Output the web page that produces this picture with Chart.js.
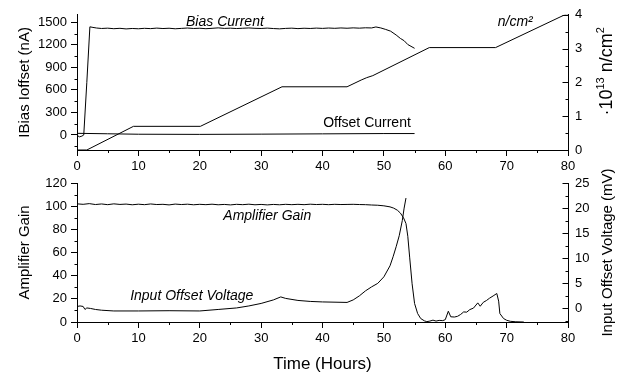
<!DOCTYPE html>
<html>
<head>
<meta charset="utf-8">
<title>Bias current, fluence and amplifier gain vs time</title>
<script src="https://cdn.jsdelivr.net/npm/chart.js@4.4.1/dist/chart.umd.min.js"></script>
<style>
  body { margin: 0; background: #fff; }
  #wrap { position: relative; width: 623px; height: 379px; }
  canvas { position: absolute; left: 0; }
</style>
</head>
<body>
<div id="wrap">
  <canvas id="upper" width="623" height="178" style="top:0"></canvas>
  <canvas id="lower" width="623" height="224" style="top:155px"></canvas>
</div>
<script>
// time axis (hours), shared by both panels
const timeTicks = [0, 10, 20, 30, 40, 50, 60, 70, 80];

// upper panel: currents (nA) and fluence (1e13 n/cm2), points are [hours, value]
const biasCurrent = [
  [0, -5], [0.4, -25], [0.8, -15], [1.1, 0], [1.6, 700], [2.1, 1440], [2.6, 1432], [3.2, 1424],
  [4, 1418], [5, 1422], [6, 1415], [7, 1420], [8, 1412], [9, 1418], [10, 1414], [11, 1420],
  [12, 1416], [13, 1423], [14, 1417], [15, 1421], [16, 1414], [17, 1419], [18, 1424], [19, 1418],
  [20, 1421], [21, 1415], [22, 1420], [23, 1426], [24, 1419], [25, 1422], [26, 1417], [27, 1421],
  [28, 1425], [29, 1420], [30, 1418], [31, 1423], [32, 1417], [33, 1413], [34, 1419], [35, 1422],
  [36, 1416], [37, 1421], [38, 1418], [39, 1423], [40, 1419], [41, 1424], [42, 1420], [43, 1425],
  [44, 1421], [45, 1426], [46, 1422], [47, 1427], [48, 1425], [48.7, 1438], [49.5, 1425],
  [50.3, 1405], [51.1, 1382], [52, 1331], [52.7, 1285], [53.3, 1255], [53.9, 1204], [55, 1154]
];
const offsetCurrent = [
  [0, 22], [5, 16], [10, 10], [20, 8], [30, 11], [40, 15], [50, 19], [55, 19]
];
const fluence = [
  [0, 0], [1.6, 0], [9.2, 0.7], [20.1, 0.7], [33.4, 1.87], [44, 1.87], [46.3, 2.07],
  [47.2, 2.14], [48.2, 2.2], [57.4, 3.03], [68.2, 3.03], [79.7, 4.02], [80, 4.0]
];
const currentTicks = [0, 300, 600, 900, 1200, 1500];
const fluenceTicks = [0, 1, 2, 3, 4];

// lower panel: gain and input offset voltage (mV)
const amplifierGain = [
  [0, 102], [1, 101.6], [2, 102.2], [3, 101.4], [4, 101.9], [5, 101.3], [6, 102], [7, 101.5],
  [8, 101.8], [9, 101.2], [10, 101.7], [11, 101.3], [12, 101.9], [13, 101.4], [14, 101.6],
  [15, 101.1], [16, 101.8], [17, 101.4], [18, 101.7], [19, 101.2], [20, 101.6], [21, 101.3],
  [22, 101.7], [23, 101.2], [24, 101.5], [25, 101.1], [26, 101.6], [27, 101.3], [28, 101.7],
  [29, 101.2], [30, 101.5], [31, 101.1], [32, 101.5], [33, 101.2], [34, 101.6], [35, 101.3],
  [36, 101.6], [37, 101.3], [38, 101.7], [39, 101.4], [40, 101.6], [41, 101.3], [42, 101.6],
  [43, 101.4], [44, 101.5], [45, 101.6], [46, 101.4], [47, 101.3], [48, 101], [49, 100.8],
  [50, 100.3], [51, 99.4], [51.6, 98.3], [52.2, 96.5], [52.7, 94], [53.2, 90], [53.6, 85],
  [53.9, 74], [54.2, 56], [54.6, 33], [55, 16], [55.5, 7.3], [56, 3], [56.6, 1], [57, 0.3],
  [57.5, 0.8], [58, 1.6], [58.5, 0.8], [59, 1.4], [59.6, 1.2], [60, 2], [60.5, 9.3], [60.9, 4.5],
  [61.5, 4.3], [62, 4.9], [62.5, 6.5], [63, 8.7], [63.5, 8.5], [64, 10.7], [64.6, 12],
  [65.3, 16.5], [65.7, 13.6], [66.2, 17], [66.7, 18.5], [67.2, 20.5], [67.8, 22.5], [68.4, 24.6],
  [68.7, 18], [68.9, 7.3], [69.5, 3], [70, 1.5], [70.6, 0.6], [71.5, 0.2], [72.8, 0]
];
const inputOffset = [
  [0, 0.4], [0.5, 0.5], [1, 0.4], [1.3, -0.2], [1.6, 0.1], [2.2, 0], [3, -0.2], [4, -0.35],
  [6, -0.5], [10, -0.5], [15, -0.45], [20, -0.5], [23, -0.2], [26, 0.1], [28, 0.5], [30, 1.0],
  [32, 1.7], [33.2, 2.3], [34, 2.0], [36, 1.6], [38, 1.4], [40, 1.3], [44, 1.2], [45, 1.7],
  [46, 2.5], [47, 3.5], [48, 4.3], [49, 5.0], [50, 6.3], [51, 8.5], [51.5, 10.3], [52, 12.3],
  [52.5, 14.5], [53, 17.5], [53.3, 20], [53.6, 22]
];
const gainTicks = [0, 20, 40, 60, 80, 100, 120];
const voltageTicks = [0, 5, 10, 15, 20, 25];

const FONT = "'Liberation Sans', Arial, Helvetica, sans-serif";

// minor ticks, inward right-axis ticks, rotated right titles and in-plot labels
const extras = {
  id: 'extras',
  afterDraw(chart, args, opts) {
    const ctx = chart.ctx;
    ctx.save();
    ctx.strokeStyle = '#000';
    ctx.lineWidth = 1;
    (opts.ticks || []).forEach(t => {
      const s = chart.scales[t.scale];
      const start = Math.ceil((s.min - 1e-9) / t.step) * t.step;
      for (let v = start; v <= s.max + 1e-9; v += t.step) {
        if (t.skip && Math.abs(v / t.skip - Math.round(v / t.skip)) < 1e-6) continue;
        const p = Math.round(s.getPixelForValue(v)) + 0.5;
        ctx.beginPath();
        if (s.position === 'bottom') {
          const b = s.top;
          ctx.moveTo(p, b);
          ctx.lineTo(p, b + (t.inward ? -t.len : t.len));
        } else {
          const base = s.position === 'left' ? s.right : s.left;
          const out = s.position === 'left' ? -1 : 1;
          const b = Math.round(base) + 0.5;
          ctx.moveTo(b, p);
          ctx.lineTo(b + (t.inward ? -out : out) * t.len, p);
        }
        ctx.stroke();
      }
    });

    const rt = opts.rightTitle;
    if (rt) {
      const s = chart.scales[rt.scale];
      let total = 0;
      rt.parts.forEach(part => {
        ctx.font = (part.sup ? rt.supSize : rt.size) + 'px ' + FONT;
        total += ctx.measureText(part.text).width;
      });
      ctx.translate(s.right - rt.offset, (s.top + s.bottom) / 2 + (rt.shift || 0));
      ctx.rotate(-Math.PI / 2);
      ctx.fillStyle = '#000';
      ctx.textAlign = 'left';
      ctx.textBaseline = 'alphabetic';
      let x = -total / 2;
      rt.parts.forEach(part => {
        ctx.font = (part.sup ? rt.supSize : rt.size) + 'px ' + FONT;
        ctx.fillText(part.text, x, part.sup ? -rt.size * 0.45 : 0);
        x += ctx.measureText(part.text).width;
      });
      ctx.setTransform(1, 0, 0, 1, 0, 0);
    }

    (opts.notes || []).forEach(n => {
      const xs = chart.scales.x;
      const ys = chart.scales[n.scale || 'y'];
      ctx.font = (n.italic ? 'italic ' : '') + '14px ' + FONT;
      ctx.fillStyle = '#000';
      ctx.textAlign = 'center';
      ctx.textBaseline = 'middle';
      ctx.fillText(n.text, xs.getPixelForValue(n.x), ys.getPixelForValue(n.y));
    });
    ctx.restore();
  }
};

function toPoints(list) {
  return list.map(p => ({ x: p[0], y: p[1] }));
}

function line(data, axis) {
  return {
    data: toPoints(data),
    yAxisID: axis,
    borderColor: '#000',
    borderWidth: 1,
    pointRadius: 0,
    tension: 0,
    fill: false
  };
}

function fixedTicks(values) {
  return scale => { scale.ticks = values.map(v => ({ value: v })); };
}

const tickFont = { family: FONT, size: 13 };
const plainLabel = v => String(v);

function timeAxis(height, withTitle) {
  return {
    type: 'linear',
    min: 0,
    max: 80,
    afterBuildTicks: fixedTicks(timeTicks),
    afterFit: s => { s.height = height; },
    border: { color: '#000', width: 1 },
    grid: { drawOnChartArea: false, tickLength: 6, color: '#000' },
    ticks: { color: '#000', font: tickFont, padding: 3, maxRotation: 0, callback: plainLabel },
    title: {
      display: withTitle,
      text: 'Time (Hours)',
      color: '#000',
      font: { family: FONT, size: 17 },
      padding: { top: 0, bottom: 4 }
    }
  };
}

function leftAxis(min, max, ticks, title) {
  return {
    position: 'left',
    min: min,
    max: max,
    afterBuildTicks: fixedTicks(ticks),
    afterFit: s => { s.width = 77; },
    border: { color: '#000', width: 1 },
    grid: { drawOnChartArea: false, tickLength: 6, color: '#000' },
    ticks: { color: '#000', font: tickFont, padding: 4, callback: plainLabel },
    title: {
      display: true,
      text: title,
      color: '#000',
      font: { family: FONT, size: 15 },
      padding: { top: 16, bottom: 0 }
    }
  };
}

function rightAxis(min, max, ticks) {
  return {
    position: 'right',
    min: min,
    max: max,
    afterBuildTicks: fixedTicks(ticks),
    afterFit: s => { s.width = 55; },
    border: { color: '#000', width: 1 },
    grid: { drawOnChartArea: false, drawTicks: false },
    ticks: { color: '#000', font: tickFont, padding: 7, callback: plainLabel }
  };
}

const common = {
  responsive: false,
  animation: false,
  events: [],
  plugins: { legend: { display: false }, tooltip: { enabled: false } }
};

new Chart(document.getElementById('upper'), {
  type: 'line',
  data: {
    datasets: [
      line(biasCurrent, 'y'),
      line(offsetCurrent, 'y'),
      line(fluence, 'y2')
    ]
  },
  options: {
    ...common,
    layout: { padding: { top: 9, left: 0, right: 0, bottom: 0 } },
    scales: {
      x: timeAxis(28, false),
      y: leftAxis(-200, 1600, currentTicks, 'IBias Ioffset (nA)'),
      y2: rightAxis(0, 4, fluenceTicks)
    },
    plugins: {
      ...common.plugins,
      extras: {
        ticks: [
          { scale: 'x', step: 5, skip: 10, len: 3 },
          { scale: 'y', step: 150, skip: 300, len: 3 },
          { scale: 'y2', step: 1, len: 6, inward: true },
          { scale: 'y2', step: 0.5, skip: 1, len: 3, inward: true }
        ],
        rightTitle: {
          scale: 'y2', offset: 11, shift: -11, size: 18, supSize: 11,
          parts: [{ text: '·10' }, { text: '13', sup: true }, { text: ' n/cm' }, { text: '2', sup: true }]
        },
        notes: [
          { text: 'Bias Current', x: 24.1, y: 1504, italic: true },
          { text: 'n/cm²', x: 71.4, y: 1498, italic: true },
          { text: 'Offset Current', x: 47.25, y: 151 }
        ]
      }
    }
  },
  plugins: [extras]
});

new Chart(document.getElementById('lower'), {
  type: 'line',
  data: {
    datasets: [
      line(amplifierGain, 'y'),
      line(inputOffset, 'y2')
    ]
  },
  options: {
    ...common,
    layout: { padding: { top: 28, left: 0, right: 0, bottom: 0 } },
    scales: {
      x: timeAxis(57, true),
      y: leftAxis(0, 120, gainTicks, 'Amplifier Gain'),
      y2: rightAxis(-2.7, 25, voltageTicks)
    },
    plugins: {
      ...common.plugins,
      extras: {
        ticks: [
          { scale: 'x', step: 5, skip: 10, len: 3 },
          { scale: 'y', step: 10, skip: 20, len: 3 },
          { scale: 'y2', step: 5, len: 6, inward: true },
          { scale: 'y2', step: 2.5, skip: 5, len: 3, inward: true }
        ],
        rightTitle: {
          scale: 'y2', offset: 11, shift: 0, size: 15, supSize: 10,
          parts: [{ text: 'Input Offset Voltage (mV)' }]
        },
        notes: [
          { text: 'Amplifier Gain', x: 31.0, y: 91.8, italic: true },
          { text: 'Input Offset Voltage', x: 18.7, y: 22.3, italic: true }
        ]
      }
    }
  },
  plugins: [extras]
});
</script>
</body>
</html>
